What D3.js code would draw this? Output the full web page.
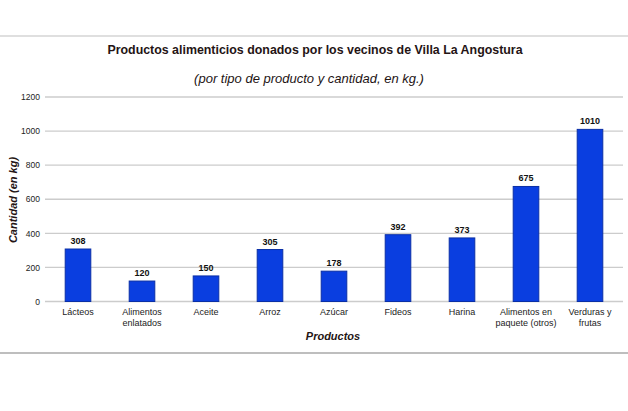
<!DOCTYPE html>
<html>
<head>
<meta charset="utf-8">
<script src="https://cdn.jsdelivr.net/npm/d3@7"></script>
<style>
  body { margin: 0; background: #fff; }
  text { font-family: "Liberation Sans", Arial, sans-serif; }
</style>
</head>
<body>
<svg></svg>
<script>
var width = 628;
var height = 411;

var productos = [
    ["Lácteos"],
    ["Alimentos", "enlatados"],
    ["Aceite"],
    ["Arroz"],
    ["Azúcar"],
    ["Fideos"],
    ["Harina"],
    ["Alimentos en", "paquete (otros)"],
    ["Verduras y", "frutas"]
];
var cantidades = [308, 120, 150, 305, 178, 392, 373, 675, 1010];
var yTicks = [0, 200, 400, 600, 800, 1000, 1200];

var svg = d3.select("svg")
            .attr("width", width)
            .attr("height", height);

// frame lines top and bottom
svg.append("line")
    .attr("x1", 0).attr("x2", width)
    .attr("y1", 36).attr("y2", 36)
    .attr("stroke", "#d4d4d4").attr("stroke-width", 1.5);
svg.append("line")
    .attr("x1", 0).attr("x2", width)
    .attr("y1", 353).attr("y2", 353)
    .attr("stroke", "#a8a8a8").attr("stroke-width", 1.5);

svg.append("text")
    .attr("x", 315).attr("y", 54)
    .attr("text-anchor", "middle")
    .style("font-size", "12.4px").style("font-weight", "bold")
    .attr("fill", "#241414")
    .text("Productos alimenticios donados por los vecinos de Villa La Angostura");

svg.append("text")
    .attr("x", 309).attr("y", 83)
    .attr("text-anchor", "middle")
    .style("font-size", "13px").style("font-style", "italic")
    .attr("fill", "#241414")
    .text("(por tipo de producto y cantidad, en kg.)");

var xscale = d3.scaleBand()
               .domain(d3.range(productos.length))
               .range([46, 622])
               .paddingInner(0.6)
               .paddingOuter(0.3);

var yscale = d3.scaleLinear()
               .domain([0, 1200])
               .range([301.5, 97]);

// gridlines
svg.append("g")
    .selectAll("line")
    .data(yTicks)
    .enter().append("line")
    .attr("x1", 45).attr("x2", 623)
    .attr("y1", function(d){ return yscale(d); })
    .attr("y2", function(d){ return yscale(d); })
    .attr("stroke", "#cccccc").attr("stroke-width", 1.3);

var yaxis = d3.axisLeft(yscale)
              .tickValues(yTicks)
              .tickFormat(d3.format("d"))
              .tickSize(0)
              .tickPadding(5);

var gy = svg.append("g")
    .attr("transform", "translate(40,0)")
    .call(yaxis);
gy.select(".domain").remove();
gy.selectAll("text")
    .style("font-size", "8.5px")
    .attr("fill", "#222")
    .attr("x", 0);

svg.append("text")
    .attr("transform", "translate(17,200) rotate(-90)")
    .attr("text-anchor", "middle")
    .style("font-size", "11px").style("font-weight", "bold").style("font-style", "italic")
    .attr("fill", "#241414")
    .text("Cantidad (en kg)");

// bars
svg.selectAll("rect.bar")
    .data(cantidades)
    .enter().append("rect")
    .attr("class", "bar")
    .attr("x", function(d,i){ return xscale(i); })
    .attr("y", function(d){ return yscale(d); })
    .attr("width", xscale.bandwidth())
    .attr("height", function(d){ return yscale(0) - yscale(d); })
    .attr("fill", "#0a3ee0")
    .attr("stroke", "#0a2fa6")
    .attr("stroke-width", 1);

// value labels
svg.selectAll("text.val")
    .data(cantidades)
    .enter().append("text")
    .attr("class", "val")
    .attr("x", function(d,i){ return xscale(i) + xscale.bandwidth()/2; })
    .attr("y", function(d){ return yscale(d) - 5; })
    .attr("text-anchor", "middle")
    .style("font-size", "9px").style("font-weight", "bold")
    .attr("fill", "#111")
    .text(function(d){ return d; });

// category labels
var cats = svg.selectAll("text.cat")
    .data(productos)
    .enter().append("text")
    .attr("class", "cat")
    .attr("text-anchor", "middle")
    .style("font-size", "9px")
    .attr("fill", "#222");
cats.each(function(d, i){
    var t = d3.select(this);
    d.forEach(function(line, j){
        t.append("tspan")
            .attr("x", xscale(i) + xscale.bandwidth()/2)
            .attr("y", 315 + j*11)
            .text(line);
    });
});

svg.append("text")
    .attr("x", 333).attr("y", 340)
    .attr("text-anchor", "middle")
    .style("font-size", "11px").style("font-weight", "bold").style("font-style", "italic")
    .attr("fill", "#241414")
    .text("Productos");
</script>
</body>
</html>
